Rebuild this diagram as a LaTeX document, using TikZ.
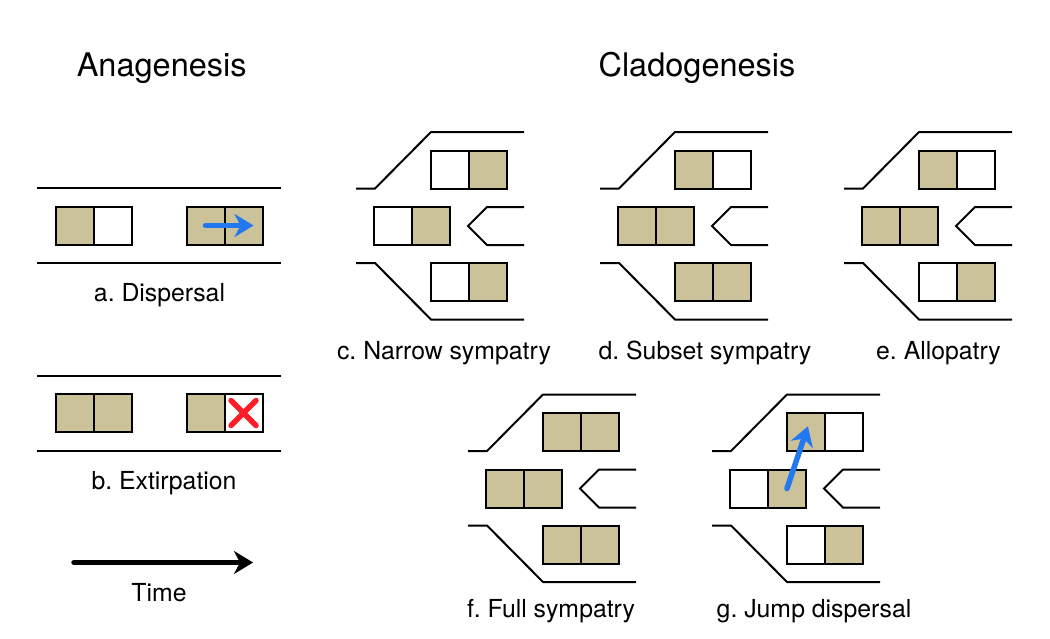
\documentclass[tikz,border=0pt]{standalone}
\usepackage{fontspec}
\setmainfont{TeX Gyre Heros}
\usetikzlibrary{arrows.meta}
\frenchspacing
\definecolor{sand}{RGB}{204,194,153}
\definecolor{moveblue}{RGB}{33,120,240}
\definecolor{lossred}{RGB}{255,28,40}
\tikzstyle{vacant} = [rectangle, draw=black, line width=2pt, minimum width=38pt, minimum height=38pt, inner sep=0pt, fill=white]
\tikzstyle{occupied} = [vacant, fill=sand]
\tikzstyle{frame} = [line width=2pt]
\tikzstyle{title} = [font=\fontsize{32.5}{38}\selectfont, anchor=base]
\tikzstyle{caption} = [font=\fontsize{24.8}{30}\selectfont, anchor=base]
\tikzstyle{move} = [line width=5.5pt, line cap=round, color=moveblue, -{Stealth[length=19pt,width=23pt,inset=6pt]}]
\tikzstyle{timeline} = [move, color=black]
\tikzstyle{cross} = [line width=5.5pt, line cap=round, color=lossred]

\begin{document}
\begin{tikzpicture}[x=1pt, y=-1pt]
    \useasboundingbox (0,0) rectangle (1050,638);
    \node (anag) [title] at (161.7,76) {Anagenesis};
    \node (clado) [title] at (697,76) {Cladogenesis};
    \draw [frame] (37,188) -- (281,188);
    \draw [frame] (37,263) -- (281,263);
    \node (a1l) [occupied] at (74.5,225.5) {};
    \node (a1r) [vacant] at (112.5,225.5) {};
    \node (a2l) [occupied] at (205.5,225.5) {};
    \node (a2r) [occupied] at (243.5,225.5) {};
    \draw [move, shorten >=10pt] (a2l.center) -- (a2r.east);
    \node (dispersal) [caption] at (159.5,301) {a. Dispersal};
    \draw [frame] (37,376) -- (281,376);
    \draw [frame] (37,450.5) -- (281,450.5);
    \node (b1l) [occupied] at (74.5,413) {};
    \node (b1r) [occupied] at (112.5,413) {};
    \node (b2l) [occupied] at (205.5,413) {};
    \node (b2r) [vacant] at (243.5,413) {};
    \draw [cross] (b2r.center) +(-12.5,-12.5) -- +(12.5,12.5) +(-12.5,12.5) -- +(12.5,-12.5);
    \node (extirp) [caption] at (164,489.3) {b. Extirpation};
    \coordinate (t0) at (74,562.5);
    \coordinate (t1) at (253,562.5);
    \draw [timeline] (t0) -- (t1);
    \node (time) [caption] at (159,601) {Time};
    \foreach \p/\px/\py/\ul/\ur/\ml/\mr/\ll/\lr in {
        c/356/132/vacant/occupied/vacant/occupied/vacant/occupied,
        d/600/132/occupied/vacant/occupied/occupied/occupied/occupied,
        e/844/132/occupied/vacant/occupied/occupied/vacant/occupied,
        f/468/394.5/occupied/occupied/occupied/occupied/occupied/occupied,
        g/712/394.5/occupied/vacant/vacant/occupied/vacant/occupied}
    {
        \begin{scope}[shift={(\px,\py)}]
            \draw [frame] (0,56.5) -- (19,56.5) -- (75,0) -- (168,0);
            \draw [frame] (168,75) -- (131,75) -- (112,94) -- (131,113) -- (168,113);
            \draw [frame] (0,131) -- (19,131) -- (75,187.5) -- (168,187.5);
            \node (\p1l) [\ul] at (94,37.5) {};
            \node (\p1r) [\ur] at (132,37.5) {};
            \node (\p2l) [\ml] at (37,94) {};
            \node (\p2r) [\mr] at (75,94) {};
            \node (\p3l) [\ll] at (94,150) {};
            \node (\p3r) [\lr] at (132,150) {};
        \end{scope}
    }
    \draw [move, shorten >=-6pt] (g2r.center) -- (g1l.center);
    \node (narrow) [caption] at (444,359.3) {c. Narrow sympatry};
    \node (subset) [caption] at (705,359.3) {d. Subset sympatry};
    \node (allo) [caption] at (938.5,359.3) {e. Allopatry};
    \node (full) [caption] at (551,617.7) {f. Full sympatry};
    \node (jump) [caption] at (814,617.7) {g. Jump dispersal};
\end{tikzpicture}
\end{document}
